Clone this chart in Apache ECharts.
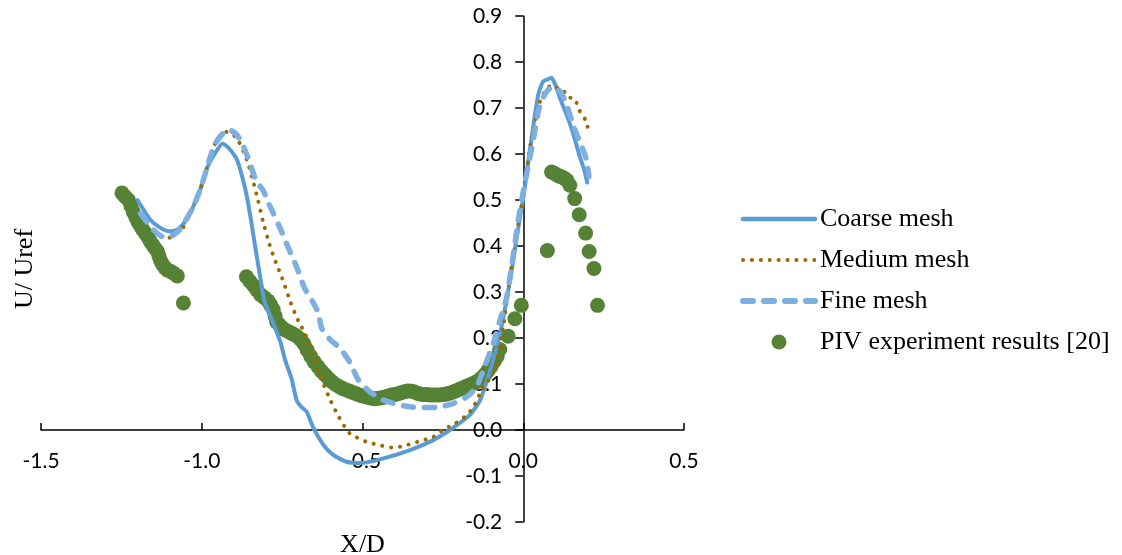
<!DOCTYPE html>
<html>
<head>
<meta charset="utf-8">
<script src="https://cdn.jsdelivr.net/npm/echarts@6/dist/echarts.min.js"></script>
<style>
html,body{margin:0;padding:0;background:#fff;}
#chart{width:1122px;height:555px;}
</style>
</head>
<body>
<div id="chart"></div>
<script>
// ---- data ----
const seriesNames = ['Coarse mesh', 'Medium mesh', 'Fine mesh', 'PIV experiment results [20]'];
const xTicks = [-1.5, -1.0, -0.5, 0.0, 0.5];
const yTicks = [-0.2, -0.1, 0.0, 0.1, 0.2, 0.3, 0.4, 0.5, 0.6, 0.7, 0.8, 0.9];

const coarseX = [-1.20,-1.16,-1.13,-1.10,-1.075,-1.055,-1.03,-1.005,-0.985,-0.96,
  -0.935,-0.915,-0.89,-0.865,-0.85,-0.835,-0.82,-0.805,-0.78,-0.756,
  -0.741,-0.72,-0.705,-0.69,-0.674,-0.653,-0.622,-0.591,-0.55,-0.508,
  -0.446,-0.35,-0.28,-0.228,-0.166,-0.134,-0.103,-0.072,-0.04,-0.02,
  0.0,0.015,0.03,0.047,0.062,0.075,0.088,0.10,0.115,0.135,
  0.155,0.176,0.19,0.199];
const coarseY = [0.50,0.457,0.44,0.432,0.436,0.45,0.48,0.522,0.567,0.60,
  0.623,0.612,0.587,0.525,0.47,0.404,0.34,0.28,0.237,0.193,
  0.153,0.11,0.065,0.05,0.04,0.005,-0.032,-0.054,-0.069,-0.072,
  -0.064,-0.043,-0.022,0.0,0.033,0.065,0.13,0.21,0.33,0.42,
  0.505,0.58,0.655,0.73,0.758,0.762,0.766,0.75,0.72,0.685,
  0.645,0.594,0.565,0.538];

const mediumX = [-1.10,-1.06,-1.03,-1.005,-0.985,-0.96,-0.93,-0.91,-0.89,-0.86,
  -0.84,-0.825,-0.81,-0.79,-0.77,-0.75,-0.725,-0.705,-0.69,-0.66,
  -0.63,-0.60,-0.575,-0.54,-0.49,-0.44,-0.41,-0.38,-0.33,-0.28,
  -0.25,-0.21,-0.175,-0.155,-0.13,-0.09,-0.06,-0.04,-0.02,0.0,
  0.012,0.02,0.033,0.05,0.07,0.09,0.108,0.124,0.138,0.16,
  0.17,0.18,0.193,0.20];
const mediumY = [0.418,0.438,0.482,0.522,0.567,0.62,0.649,0.645,0.634,0.588,
  0.54,0.50,0.455,0.405,0.365,0.33,0.28,0.245,0.225,0.18,
  0.115,0.065,0.03,-0.007,-0.025,-0.034,-0.038,-0.036,-0.026,-0.015,
  0.0,0.015,0.033,0.05,0.085,0.13,0.235,0.34,0.43,0.51,
  0.569,0.609,0.656,0.71,0.74,0.75,0.743,0.739,0.724,0.72,
  0.703,0.687,0.675,0.659];

const fineX = [-1.19,-1.15,-1.12,-1.10,-1.07,-1.03,-1.005,-0.985,-0.96,-0.93,
  -0.912,-0.89,-0.87,-0.85,-0.83,-0.81,-0.79,-0.757,-0.73,-0.705,
  -0.68,-0.655,-0.637,-0.627,-0.60,-0.57,-0.54,-0.513,-0.477,-0.435,
  -0.383,-0.33,-0.27,-0.217,-0.176,-0.145,-0.12,-0.093,-0.072,-0.051,
  -0.031,-0.015,0.001,0.017,0.033,0.048,0.069,0.09,0.116,0.137,
  0.157,0.178,0.197,0.204];
const fineY = [0.47,0.435,0.42,0.42,0.435,0.48,0.522,0.567,0.62,0.648,
  0.652,0.641,0.616,0.58,0.54,0.522,0.49,0.44,0.395,0.355,
  0.308,0.279,0.254,0.221,0.196,0.178,0.148,0.109,0.083,0.065,
  0.054,0.049,0.049,0.058,0.072,0.094,0.138,0.188,0.239,0.29,
  0.38,0.457,0.522,0.58,0.638,0.696,0.732,0.746,0.735,0.703,
  0.659,0.623,0.587,0.551];

const pivX = [-1.248,-1.238,-1.228,-1.22,-1.213,-1.205,-1.198,-1.19,-1.183,-1.175,
  -1.167,-1.16,-1.152,-1.145,-1.138,-1.133,-1.128,-1.122,-1.115,-1.107,
  -1.098,-1.09,-1.082,-1.076,-1.057,
  -0.861,-0.85,-0.839,-0.828,-0.817,-0.806,-0.794,-0.786,-0.778,-0.772,
  -0.767,-0.758,-0.748,-0.739,-0.728,-0.717,-0.706,-0.694,-0.683,-0.672,
  -0.661,-0.65,-0.639,-0.628,-0.617,-0.606,-0.595,-0.584,-0.572,-0.561,
  -0.55,-0.539,-0.528,-0.517,-0.505,-0.494,-0.483,-0.472,-0.461,-0.45,
  -0.44,-0.43,-0.42,-0.41,-0.40,-0.39,-0.38,-0.37,-0.36,-0.35,
  -0.34,-0.33,-0.32,-0.31,-0.30,-0.29,-0.28,-0.27,-0.26,-0.25,
  -0.24,-0.23,-0.22,-0.21,-0.20,-0.19,-0.18,-0.17,-0.16,-0.15,
  -0.14,-0.13,-0.12,-0.11,-0.10,-0.09,-0.081,-0.073,-0.047,-0.026,-0.006,
  0.075,0.088,0.096,0.104,0.112,0.12,0.128,0.136,0.145,0.16,0.174,0.194,0.205,0.22,0.231];
const pivY = [0.515,0.507,0.50,0.487,0.474,0.462,0.452,0.443,0.435,0.427,
  0.419,0.41,0.402,0.395,0.388,0.378,0.368,0.36,0.353,0.348,
  0.345,0.342,0.338,0.335,0.276,
  0.333,0.323,0.314,0.304,0.294,0.288,0.281,0.272,0.262,0.248,
  0.235,0.228,0.221,0.217,0.213,0.209,0.205,0.198,0.188,0.174,
  0.16,0.148,0.138,0.128,0.12,0.112,0.105,0.099,0.094,0.09,
  0.087,0.084,0.081,0.078,0.075,0.073,0.071,0.069,0.068,0.069,
  0.07,0.072,0.074,0.076,0.077,0.079,0.081,0.083,0.085,0.085,
  0.083,0.08,0.078,0.077,0.077,0.076,0.076,0.076,0.076,0.077,
  0.078,0.08,0.082,0.085,0.088,0.091,0.094,0.097,0.100,0.103,
  0.107,0.113,0.12,0.129,0.138,0.15,0.16,0.175,0.204,0.242,0.271,
  0.39,0.561,0.558,0.555,0.552,0.55,0.547,0.543,0.532,0.503,0.468,0.428,0.388,0.351,0.271];

// ---- build chart ----
function zip(xs, ys) {
  const n = Math.min(xs.length, ys.length);
  const out = [];
  for (let i = 0; i < n; i++) out.push([xs[i], ys[i]]);
  return out;
}
const fmt = v => (Math.round(v * 10) / 10).toFixed(1);
const tickFont = 'Lato';
const serif = 'Liberation Serif';

const W = 1122, H = 555;
const gridLeft = 41, gridRight = 438, gridTop = 16, gridBottom = 33;
const xMin = xTicks[0], xMax = xTicks[xTicks.length - 1];
const yMin = yTicks[0], yMax = yTicks[yTicks.length - 1];
// axes cross at the origin: shift each axis from its grid edge to the other axis's zero
const plotW = W - gridLeft - gridRight, plotH = H - gridTop - gridBottom;
const yAxisShift = -plotW * (0 - xMin) / (xMax - xMin);
const xAxisShift = -plotH * (0 - yMin) / (yMax - yMin);

const chart = echarts.init(document.getElementById('chart'), null, {renderer: 'canvas'});
chart.setOption({
  backgroundColor: '#ffffff',
  animation: false,
  grid: {left: gridLeft, right: gridRight, top: gridTop, bottom: gridBottom, containLabel: false, outerBoundsMode: 'none'},
  legend: {
    orient: 'vertical', left: 735, top: 201,
    itemWidth: 72, itemHeight: 15, itemGap: 15,
    selectedMode: false,
    lineStyle: {width: 'inherit'},
    data: [
      {name: seriesNames[0], itemStyle: {opacity: 0}, lineStyle: {width: 4.5}},
      {name: seriesNames[1], itemStyle: {opacity: 0}, lineStyle: {width: 4}},
      {name: seriesNames[2], itemStyle: {opacity: 0}, lineStyle: {width: 6}},
      {name: seriesNames[3]}
    ],
    textStyle: {fontFamily: serif, fontSize: 26, color: '#000', lineHeight: 26}
  },
  xAxis: {
    type: 'value', min: xMin, max: xMax, interval: 0.5,
    position: 'bottom', offset: xAxisShift,
    name: 'X/D', nameLocation: 'middle', nameGap: 102,
    nameTextStyle: {fontFamily: serif, fontSize: 26, color: '#000'},
    axisLine: {onZero: false, lineStyle: {color: '#000', width: 1.5}},
    axisTick: {show: true, inside: true, length: 7, lineStyle: {color: '#000', width: 1.5}},
    axisLabel: {margin: 21, fontFamily: tickFont, fontSize: 21, color: '#000', formatter: fmt},
    splitLine: {show: false}
  },
  yAxis: {
    type: 'value', min: yMin, max: yMax, interval: 0.1,
    position: 'left', offset: yAxisShift,
    name: 'U/ Uref', nameLocation: 'middle', nameGap: 485,
    nameTextStyle: {fontFamily: serif, fontSize: 26, color: '#000'},
    axisLine: {onZero: false, lineStyle: {color: '#000', width: 1.5}},
    axisTick: {show: true, inside: false, length: 8, lineStyle: {color: '#000', width: 1.5}},
    axisLabel: {margin: 21, fontFamily: tickFont, fontSize: 21, color: '#000', formatter: fmt},
    splitLine: {show: false}
  },
  series: [
    {
      name: seriesNames[0], type: 'line', data: zip(coarseX, coarseY),
      symbol: 'none', smooth: 0.2, color: '#5B9BD5',
      lineStyle: {color: '#5B9BD5', width: 4, type: 'solid', cap: 'round', join: 'round'}
    },
    {
      name: seriesNames[1], type: 'line', data: zip(mediumX, mediumY),
      symbol: 'none', smooth: 0.2, color: '#9A6B00',
      lineStyle: {color: '#9A6B00', width: 4, type: [0.1, 8.8], cap: 'round', join: 'round'}
    },
    {
      name: seriesNames[2], type: 'line', data: zip(fineX, fineY),
      symbol: 'none', smooth: 0.2, color: '#7DAFE0',
      lineStyle: {color: '#7DAFE0', width: 5.5, type: [10, 11], cap: 'round', join: 'round'}
    },
    {
      name: seriesNames[3], type: 'scatter', data: zip(pivX, pivY),
      symbol: 'circle', symbolSize: 15, color: '#558235',
      itemStyle: {color: '#558235', opacity: 1}
    }
  ]
});
</script>
</body>
</html>
